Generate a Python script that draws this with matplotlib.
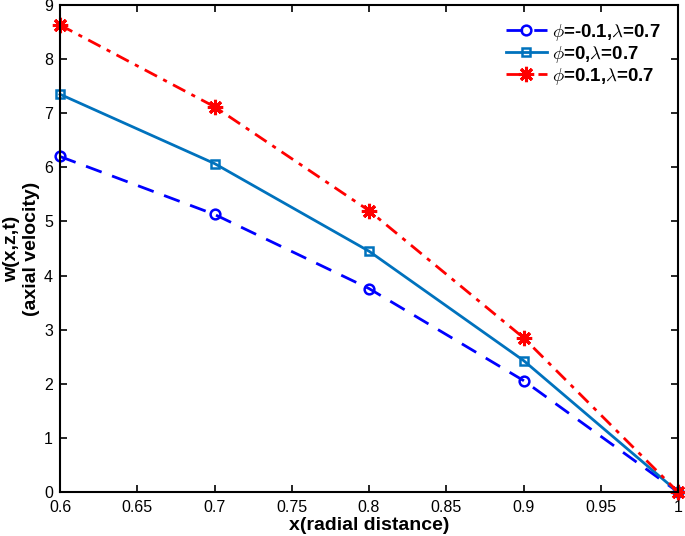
import matplotlib
matplotlib.use("Agg")
import matplotlib.pyplot as plt

plt.rcParams['font.family'] = ['Liberation Sans', 'DejaVu Sans']
plt.rcParams['mathtext.fontset'] = 'cm'

x = [0.6, 0.7, 0.8, 0.9, 1.0]
w_neg = [6.2, 5.13, 3.76, 2.06, 0.0]
w_zero = [7.35, 6.07, 4.45, 2.43, 0.0]
w_pos = [8.63, 7.12, 5.2, 2.85, 0.0]
labels = [r'$\phi$=-0.1,$\lambda$=0.7', r'$\phi$=0,$\lambda$=0.7', r'$\phi$=0.1,$\lambda$=0.7']
xticks = [0.6, 0.65, 0.7, 0.75, 0.8, 0.85, 0.9, 0.95, 1.0]
xticklabels = ['0.6', '0.65', '0.7', '0.75', '0.8', '0.85', '0.9', '0.95', '1']

fig = plt.figure(figsize=(6.85, 5.36), dpi=100)
ax = fig.add_axes([0.0876, 0.0821, 0.9022, 0.9086])

ax.plot(x, w_neg, color=(0, 0, 1), linestyle=(0, (6, 4)), linewidth=2,
        marker='o', markersize=7, markerfacecolor='none', markeredgewidth=1.8,
        label=labels[0], clip_on=False)
ax.plot(x, w_zero, color=(0, 0.447, 0.741), linestyle='-', linewidth=2,
        marker='s', markersize=6, markerfacecolor='none', markeredgewidth=1.8,
        label=labels[1], clip_on=False)
ax.plot(x, w_pos, color=(1, 0, 0), linestyle=(0, (5, 2.5, 1.5, 2.5)), linewidth=2,
        marker=(8, 2, 0), markersize=11, markeredgewidth=2.2,
        label=labels[2], clip_on=False)

ax.set_xlim(0.6, 1.0)
ax.set_ylim(0, 9)
ax.set_xticks(xticks)
ax.set_xticklabels(xticklabels)
ax.set_yticks(range(0, 10))
ax.tick_params(direction='in', top=True, right=True, length=5, width=1.2, labelsize=11.5)
ax.tick_params(axis='x', pad=6)
ax.tick_params(axis='y', pad=5)
for s in ax.spines.values():
    s.set_linewidth(1.5)

ax.set_xlabel('x(radial distance)', fontsize=14, fontweight='bold', labelpad=1)
ax.set_ylabel('w(x,z,t)\n(axial velocity)', fontsize=14, fontweight='bold', labelpad=3)

leg = ax.legend(loc='upper right', frameon=False, handlelength=2.2,
                borderaxespad=0.5, labelspacing=0.05, handletextpad=0.3,
                prop={'weight': 'bold', 'size': 13.5})

fig.savefig('out.png', dpi=100)
